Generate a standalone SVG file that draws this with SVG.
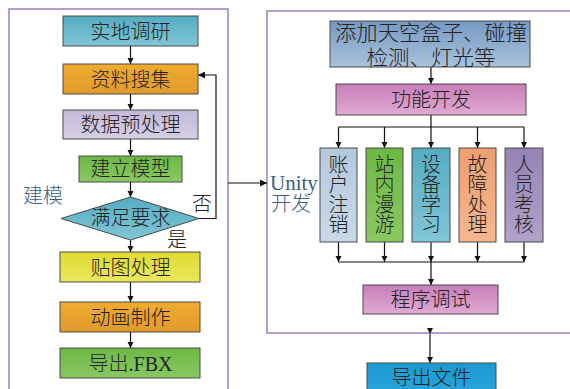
<svg xmlns="http://www.w3.org/2000/svg" width="570" height="389" viewBox="0 0 570 389">
<defs>
<style>
.box{stroke:#4a4a4a;stroke-width:1}
.t{font-family:"Liberation Serif","Noto Sans CJK SC",serif;font-size:20px;font-weight:300;fill:#222;text-anchor:middle}
.lbl{font-family:"Liberation Serif","Noto Sans CJK SC",serif;font-size:20px;font-weight:300;fill:#3b5b8e}
.frame{fill:none;stroke:#9a7fc2;stroke-width:1.5}
.ln{fill:none;stroke:#111;stroke-width:1.2}
</style>
<marker id="ah" viewBox="0 0 10 10" refX="10" refY="5" markerWidth="6" markerHeight="7" markerUnits="userSpaceOnUse" orient="auto"><path d="M0,0 L10,5 L0,10 z" fill="#111"/></marker>
<marker id="ah2" viewBox="0 0 10 10" refX="10" refY="5" markerWidth="9" markerHeight="7" markerUnits="userSpaceOnUse" orient="auto-start-reverse"><path d="M0,0 L10,5 L0,10 z" fill="#111"/></marker>
<linearGradient id="gTeal" x1="0" y1="0" x2="0" y2="1"><stop offset="0" stop-color="#55acc2"/><stop offset="1" stop-color="#80c6d6"/></linearGradient>
<linearGradient id="gOrange" x1="0" y1="0" x2="0" y2="1"><stop offset="0" stop-color="#f0ac30"/><stop offset="1" stop-color="#e09a2c"/></linearGradient>
<linearGradient id="gLav" x1="0" y1="0" x2="0" y2="1"><stop offset="0" stop-color="#c3bad8"/><stop offset="1" stop-color="#d6cfe6"/></linearGradient>
<linearGradient id="gGreen" x1="0" y1="0" x2="0" y2="1"><stop offset="0" stop-color="#6cb844"/><stop offset="1" stop-color="#8ac862"/></linearGradient>
<linearGradient id="gYellow" x1="0" y1="0" x2="0" y2="1"><stop offset="0" stop-color="#dedb30"/><stop offset="1" stop-color="#ebe75e"/></linearGradient>
<linearGradient id="gSteel" x1="0" y1="0" x2="0" y2="1"><stop offset="0" stop-color="#7598c2"/><stop offset="1" stop-color="#aac2dc"/></linearGradient>
<linearGradient id="gPink" x1="0" y1="0" x2="0" y2="1"><stop offset="0" stop-color="#c87eb8"/><stop offset="1" stop-color="#e0aad2"/></linearGradient>
<linearGradient id="gLblue" x1="0" y1="0" x2="0" y2="1"><stop offset="0" stop-color="#b4c8de"/><stop offset="1" stop-color="#cad9e8"/></linearGradient>
<linearGradient id="gSalmon" x1="0" y1="0" x2="0" y2="1"><stop offset="0" stop-color="#ee9e70"/><stop offset="1" stop-color="#f4b88e"/></linearGradient>
<linearGradient id="gPurple" x1="0" y1="0" x2="0" y2="1"><stop offset="0" stop-color="#9484b6"/><stop offset="1" stop-color="#b0a2c8"/></linearGradient>
<linearGradient id="gBlue" x1="0" y1="0" x2="0" y2="1"><stop offset="0" stop-color="#1a9ad4"/><stop offset="1" stop-color="#2aa6da"/></linearGradient>
</defs>
<rect width="570" height="389" fill="#fff"/>

<g id="frames">
<path class="frame" d="M9,395 V9 H228 V395"/>
<path class="frame" d="M575,333 H267 V11 H575"/>
<text class="lbl" x="23" y="203">建模</text>
<text class="lbl" x="270" y="190" style="font-size:21px">Unity</text>
<text class="lbl" x="271" y="211">开发</text>
</g>

<g id="connectors">
<line class="ln" x1="130.5" y1="46" x2="130.5" y2="64" marker-end="url(#ah)"/>
<line class="ln" x1="130.5" y1="94" x2="130.5" y2="110" marker-end="url(#ah)"/>
<line class="ln" x1="130.5" y1="139" x2="130.5" y2="156" marker-end="url(#ah)"/>
<line class="ln" x1="130.5" y1="182" x2="130.5" y2="197" marker-end="url(#ah)"/>
<line class="ln" x1="130.5" y1="240" x2="130.5" y2="252" marker-end="url(#ah)"/>
<line class="ln" x1="130.5" y1="282" x2="130.5" y2="302" marker-end="url(#ah)"/>
<line class="ln" x1="130.5" y1="332" x2="130.5" y2="348" marker-end="url(#ah)"/>
<polyline class="ln" points="199,218.5 216,218.5 216,75 198,75" marker-end="url(#ah2)"/>
<line class="ln" x1="228" y1="183" x2="267" y2="183" marker-end="url(#ah2)"/>
<line class="ln" x1="431" y1="67" x2="431" y2="84" marker-end="url(#ah)"/>
<polyline class="ln" points="431,115 431,127"/>
<line class="ln" x1="338.5" y1="127" x2="524" y2="127"/>
<line class="ln" x1="338.5" y1="127" x2="338.5" y2="148" marker-end="url(#ah)"/>
<line class="ln" x1="384.5" y1="127" x2="384.5" y2="148" marker-end="url(#ah)"/>
<line class="ln" x1="431" y1="127" x2="431" y2="148" marker-end="url(#ah)"/>
<line class="ln" x1="477.5" y1="127" x2="477.5" y2="148" marker-end="url(#ah)"/>
<line class="ln" x1="524" y1="127" x2="524" y2="148" marker-end="url(#ah)"/>
<line class="ln" x1="338.5" y1="242" x2="338.5" y2="262" marker-end="url(#ah)"/>
<line class="ln" x1="384.5" y1="242" x2="384.5" y2="262" marker-end="url(#ah)"/>
<line class="ln" x1="431" y1="242" x2="431" y2="262" marker-end="url(#ah)"/>
<line class="ln" x1="477.5" y1="242" x2="477.5" y2="262" marker-end="url(#ah)"/>
<line class="ln" x1="524" y1="242" x2="524" y2="262" marker-end="url(#ah)"/>
<line class="ln" x1="338.5" y1="262" x2="524" y2="262"/>
<line class="ln" x1="431" y1="262" x2="431" y2="285" marker-end="url(#ah)"/>
<line class="ln" x1="430" y1="334" x2="430" y2="363" marker-start="url(#ah)" marker-end="url(#ah)"/>
<text class="t" x="202" y="211">否</text>
<text class="t" x="177" y="247">是</text>
</g>

<g id="n1"><rect class="box" x="63" y="16" width="135" height="30" fill="url(#gTeal)"/><text class="t" x="130.5" y="38.5">实地调研</text></g>
<g id="n2"><rect class="box" x="63" y="64" width="135" height="30" fill="url(#gOrange)"/><text class="t" x="130.5" y="86.5">资料搜集</text></g>
<g id="n3"><rect class="box" x="63" y="110" width="135" height="29" fill="url(#gLav)"/><text class="t" x="130.5" y="132">数据预处理</text></g>
<g id="n4"><rect class="box" x="79" y="156" width="103" height="26" fill="url(#gGreen)"/><text class="t" x="130.5" y="176">建立模型</text></g>
<g id="n5"><polygon class="box" points="61,218.5 130.5,197 199,218.5 130.5,240" fill="url(#gTeal)"/><text class="t" x="130.5" y="225">满足要求</text></g>
<g id="n6"><rect class="box" x="60" y="252" width="140" height="30" fill="url(#gYellow)"/><text class="t" x="130.5" y="274.5">贴图处理</text></g>
<g id="n7"><rect class="box" x="60" y="302" width="140" height="30" fill="url(#gOrange)"/><text class="t" x="130.5" y="324.5">动画制作</text></g>
<g id="n8"><rect class="box" x="60" y="348" width="140" height="30" fill="url(#gGreen)"/><text class="t" x="130.5" y="370.5">导出.FBX</text></g>

<g id="r1"><rect class="box" x="330" y="21" width="200" height="46" fill="url(#gSteel)"/>
<text class="t" x="431" y="40" textLength="192" lengthAdjust="spacingAndGlyphs" style="font-size:21px">添加天空盒子、碰撞</text>
<text class="t" x="431" y="65" textLength="129" lengthAdjust="spacingAndGlyphs" style="font-size:21px">检测、灯光等</text></g>
<g id="r2"><rect class="box" x="336" y="84" width="190" height="31" fill="url(#gPink)"/><text class="t" x="431" y="107">功能开发</text></g>
<g id="r3"><rect class="box" x="320" y="148" width="37" height="94" fill="url(#gLblue)"/>
<text class="t" x="338.5" y="172">账</text><text class="t" x="338.5" y="192">户</text><text class="t" x="338.5" y="212">注</text><text class="t" x="338.5" y="232">销</text></g>
<g id="r4"><rect class="box" x="366" y="148" width="37" height="94" fill="url(#gGreen)"/>
<text class="t" x="384.5" y="172">站</text><text class="t" x="384.5" y="192">内</text><text class="t" x="384.5" y="212">漫</text><text class="t" x="384.5" y="232">游</text></g>
<g id="r5"><rect class="box" x="412" y="148" width="38" height="94" fill="url(#gTeal)"/>
<text class="t" x="431" y="172">设</text><text class="t" x="431" y="192">备</text><text class="t" x="431" y="212">学</text><text class="t" x="431" y="232">习</text></g>
<g id="r6"><rect class="box" x="459" y="148" width="37" height="94" fill="url(#gSalmon)"/>
<text class="t" x="477.5" y="172">故</text><text class="t" x="477.5" y="192">障</text><text class="t" x="477.5" y="212">处</text><text class="t" x="477.5" y="232">理</text></g>
<g id="r7"><rect class="box" x="505" y="148" width="38" height="94" fill="url(#gPurple)"/>
<text class="t" x="524" y="172">人</text><text class="t" x="524" y="192">员</text><text class="t" x="524" y="212">考</text><text class="t" x="524" y="232">核</text></g>
<g id="r8"><rect class="box" x="363" y="285" width="135" height="29" fill="url(#gPink)"/><text class="t" x="430.5" y="307">程序调试</text></g>
<g id="r9"><rect class="box" x="367" y="363" width="129" height="32" fill="url(#gBlue)"/><text class="t" x="431.5" y="385">导出文件</text></g>
</svg>
